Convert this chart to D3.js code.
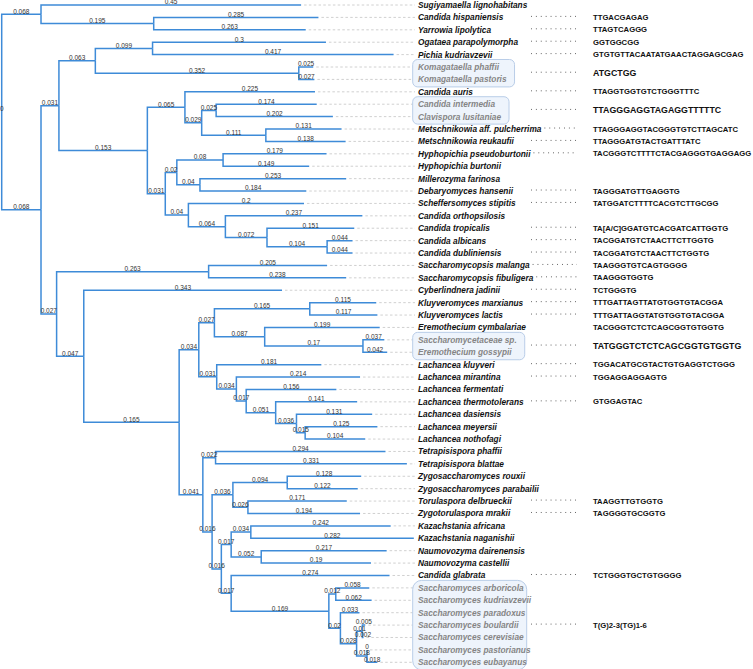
<!DOCTYPE html>
<html><head><meta charset="utf-8">
<script src="https://cdn.jsdelivr.net/npm/d3@7"></script>
<style>body{margin:0;background:#fff;} svg{display:block;}</style>
</head><body><svg id="c" width="753" height="669"></svg>
<script>
// Tree as a parent/child table: [node, parent, branch length]
const edges = [
 ["root", null, 0],
 ["n1","root",0.068],
 ["Sugiyamaella lignohabitans","n1",0.45],
 ["n2","n1",0.195],
 ["Candida hispaniensis","n2",0.285],
 ["Yarrowia lipolytica","n2",0.263],
 ["n3","root",0.068],
 ["n4","n3",0.031],
 ["n5","n4",0.063],
 ["n6","n5",0.099],
 ["Ogataea parapolymorpha","n6",0.3],
 ["Pichia kudriavzevii","n6",0.417],
 ["n7","n5",0.352],
 ["Komagataella phaffii","n7",0.025],
 ["Komagataella pastoris","n7",0.027],
 ["n8","n4",0.153],
 ["n9","n8",0.065],
 ["Candida auris","n9",0.225],
 ["n10","n9",0.029],
 ["n11","n10",0.025],
 ["Candida intermedia","n11",0.174],
 ["Clavispora lusitaniae","n11",0.202],
 ["n12","n10",0.111],
 ["Metschnikowia aff. pulcherrima","n12",0.131],
 ["Metschnikowia reukaufii","n12",0.138],
 ["n13","n8",0.031],
 ["n14","n13",0.02],
 ["n15","n14",0.08],
 ["Hyphopichia pseudoburtonii","n15",0.179],
 ["Hyphopichia burtonii","n15",0.149],
 ["n16","n14",0.04],
 ["Millerozyma farinosa","n16",0.253],
 ["Debaryomyces hansenii","n16",0.184],
 ["n17","n13",0.04],
 ["Scheffersomyces stipitis","n17",0.2],
 ["n18","n17",0.064],
 ["Candida orthopsilosis","n18",0.237],
 ["n19","n18",0.072],
 ["Candida tropicalis","n19",0.151],
 ["n20","n19",0.104],
 ["Candida albicans","n20",0.044],
 ["Candida dubliniensis","n20",0.044],
 ["n21","n3",0.027],
 ["n22","n21",0.263],
 ["Saccharomycopsis malanga","n22",0.205],
 ["Saccharomycopsis fibuligera","n22",0.238],
 ["n23","n21",0.047],
 ["Cyberlindnera jadinii","n23",0.343],
 ["n24","n23",0.165],
 ["n25","n24",0.034],
 ["n26","n25",0.027],
 ["n27","n26",0.165],
 ["Kluyveromyces marxianus","n27",0.115],
 ["Kluyveromyces lactis","n27",0.117],
 ["n28","n26",0.087],
 ["Eremothecium cymbalariae","n28",0.199],
 ["n29","n28",0.17],
 ["Saccharomycetaceae sp.","n29",0.037],
 ["Eremothecium gossypii","n29",0.042],
 ["n30","n25",0.031],
 ["Lachancea kluyveri","n30",0.181],
 ["n31","n30",0.034],
 ["Lachancea mirantina","n31",0.214],
 ["n32","n31",0.017],
 ["Lachancea fermentati","n32",0.156],
 ["n33","n32",0.051],
 ["Lachancea thermotolerans","n33",0.141],
 ["n34","n33",0.036],
 ["Lachancea dasiensis","n34",0.131],
 ["n35","n34",0.015],
 ["Lachancea meyersii","n35",0.125],
 ["Lachancea nothofagi","n35",0.104],
 ["n36","n24",0.041],
 ["n37","n36",0.022],
 ["Tetrapisispora phaffii","n37",0.294],
 ["Tetrapisispora blattae","n37",0.331],
 ["n38","n36",0.016],
 ["n39","n38",0.036],
 ["n40","n39",0.094],
 ["Zygosaccharomyces rouxii","n40",0.128],
 ["Zygosaccharomyces parabailii","n40",0.122],
 ["n41","n39",0.026],
 ["Torulaspora delbrueckii","n41",0.171],
 ["Zygotorulaspora mrakii","n41",0.194],
 ["n42","n38",0.016],
 ["n43","n42",0.017],
 ["n44","n43",0.034],
 ["Kazachstania africana","n44",0.242],
 ["Kazachstania naganishii","n44",0.282],
 ["n45","n43",0.052],
 ["Naumovozyma dairenensis","n45",0.217],
 ["Naumovozyma castellii","n45",0.19],
 ["n46","n42",0.017],
 ["Candida glabrata","n46",0.274],
 ["n47","n46",0.169],
 ["n48","n47",0.012],
 ["Saccharomyces arboricola","n48",0.058],
 ["Saccharomyces kudriavzevii","n48",0.062],
 ["n49","n47",0.02],
 ["Saccharomyces paradoxus","n49",0.033],
 ["n50","n49",0.028],
 ["n51","n50",0.01],
 ["Saccharomyces boulardii","n51",0.005],
 ["Saccharomyces cerevisiae","n51",0.002],
 ["n52","n50",0.018],
 ["Saccharomyces pastorianus","n52",0],
 ["Saccharomyces eubayanus","n52",0.018]
];

// Telomeric motifs per single species
const motifLeaves = [
 "Candida hispaniensis","Yarrowia lipolytica","Ogataea parapolymorpha","Pichia kudriavzevii",
 "Candida auris","Metschnikowia aff. pulcherrima","Metschnikowia reukaufii","Hyphopichia pseudoburtonii",
 "Debaryomyces hansenii","Scheffersomyces stipitis","Candida tropicalis","Candida albicans",
 "Candida dubliniensis","Saccharomycopsis malanga","Saccharomycopsis fibuligera","Cyberlindnera jadinii",
 "Kluyveromyces marxianus","Kluyveromyces lactis","Eremothecium cymbalariae","Lachancea kluyveri",
 "Lachancea mirantina","Lachancea thermotolerans","Torulaspora delbrueckii","Zygotorulaspora mrakii",
 "Candida glabrata"
];
const motifSeqs = [
 "TTGACGAGAG","TTAGTCAGGG","GGTGGCGG","GTGTGTTACAATATGAACTAGGAGCGAG",
 "TTAGGTGGTGTCTGGGTTTC","TTAGGGAGGTACGGGTGTCTTAGCATC","TTAGGGATGTACTGATTTATC","TACGGGTCTTTTCTACGAGGGTGAGGAGG",
 "TAGGGATGTTGAGGTG","TATGGATCTTTTCACGTCTTGCGG","TA[A/C]GGATGTCACGATCATTGGTG","TACGGATGTCTAACTTCTTGGTG",
 "TACGGATGTCTAACTTCTGGTG","TAAGGGTGTCAGTGGGG","TAAGGGTGGTG","TCTGGGTG",
 "TTTGATTAGTTATGTGGTGTACGGA","TTTGATTAGGTATGTGGTGTACGGA","TACGGGTCTCTCAGCGGTGTGGTG","TGGACATGCGTACTGTGAGGTCTGGG",
 "TGGAGGAGGAGTG","GTGGAGTAC","TAAGGTTGTGGTG","TAGGGGTGCGGTG",
 "TCTGGGTGCTGTGGGG"
];
const noLeader = ["Eremothecium cymbalariae"];

// Boxed groups sharing a motif
const groupMembers = [
 ["Komagataella phaffii","Komagataella pastoris"],
 ["Candida intermedia","Clavispora lusitaniae"],
 ["Saccharomycetaceae sp.","Eremothecium gossypii"],
 ["Saccharomyces arboricola","Saccharomyces kudriavzevii","Saccharomyces paradoxus","Saccharomyces boulardii",
  "Saccharomyces cerevisiae","Saccharomyces pastorianus","Saccharomyces eubayanus"]
];
const groupSeqs = ["ATGCTGG","TTAGGGAGGTAGAGGTTTTTC","TATGGGTCTCTCAGCGGTGTGGTG","T(G)2-3(TG)1-6"];

// ---------- layout ----------
const svg = d3.select("#c");
const root = d3.stratify().id(d => d[0]).parentId(d => d[1])(edges);
root.eachBefore(n => { n.len = n.data[2]; n.dist = (n.parent ? n.parent.dist : 0) + n.len; });
const leaves = root.leaves();
const x = d3.scaleLinear().domain([0, 1]).range([1.7, 579.7]);
const y = d3.scaleLinear().domain([0, leaves.length - 1]).range([5, 662.3]);
leaves.forEach((l, i) => l.yy = y(i));
root.eachAfter(n => {
  if (n.children) n.yy = (n.children[0].yy + n.children[n.children.length - 1].yy) / 2;
  n.xx = x(n.dist);
});
const byName = new Map(leaves.map(l => [l.id, l]));
const boxedSet = new Set(groupMembers.flat());

const LABEL_X = 418;
const labelFont = "'Liberation Sans', Arial, sans-serif";

// dashed guides
svg.append("g").selectAll("line").data(leaves.filter(l => l.xx < 411)).join("line")
  .attr("x1", d => d.xx + 3).attr("x2", 415)
  .attr("y1", d => d.yy).attr("y2", d => d.yy)
  .attr("stroke", "#c4c4c4").attr("stroke-width", 0.8).attr("stroke-dasharray", "2.5,2.3");

// branches
svg.append("g").selectAll("path").data(root.descendants().filter(n => n.parent)).join("path")
  .attr("d", n => `M${n.parent.xx},${n.parent.yy}V${n.yy}H${n.xx}`)
  .attr("fill", "none").attr("stroke", "#3e8bd8").attr("stroke-width", 1.5);

// branch length labels
svg.append("g").selectAll("text").data(root.descendants()).join("text")
  .attr("x", n => n.parent ? (n.parent.xx + n.xx) / 2 : n.xx)
  .attr("y", n => n.yy - 0.6)
  .attr("text-anchor", "middle")
  .attr("font-family", labelFont).attr("font-size", 6.5).attr("fill", "#333")
  .text(n => String(n.len));

// group boxes (drawn under labels)
const boxG = svg.append("g");

// leaf labels
const lab = svg.append("g").selectAll("text").data(leaves).join("text")
  .attr("x", LABEL_X).attr("y", d => d.yy)
  .attr("dominant-baseline", "central")
  .attr("font-family", labelFont).attr("font-size", 8.3)
  .attr("font-weight", "bold").attr("font-style", "italic")
  .attr("fill", d => boxedSet.has(d.id) ? "#858585" : "#111")
  .text(d => d.id);
const labEnd = new Map();
lab.each(function(d) { labEnd.set(d.id, LABEL_X + this.getComputedTextLength()); });

groupMembers.forEach((mem, gi) => {
  const ys = mem.map(m => byName.get(m).yy);
  const top = d3.min(ys) - 7.5, bot = d3.max(ys) + 7.5;
  const w = d3.max(mem, m => labEnd.get(m)) - 412.7 + 8;
  boxG.append("rect")
    .attr("x", 412.7).attr("y", top).attr("width", Math.min(w, 114)).attr("height", bot - top)
    .attr("rx", mem.length > 2 ? 9 : 5)
    .attr("fill", "#eef4fc").attr("stroke", "#b9cde8").attr("stroke-width", 1);
});

// dotted leaders + motif sequences
const DOT_END = 577, SEQ_X = 593;
const extras = svg.append("g");
function leader(yy, startAfter) {
  const x1 = startAfter + 3 > 528 ? startAfter + 3 : 531;
  extras.append("line").attr("x1", x1).attr("x2", DOT_END).attr("y1", yy - 1).attr("y2", yy - 1)
    .attr("stroke", "#444").attr("stroke-width", 0.9).attr("stroke-dasharray", "0.9,4");
}
motifLeaves.forEach((name, i) => {
  const l = byName.get(name);
  if (!noLeader.includes(name)) leader(l.yy, labEnd.get(name));
  extras.append("text").attr("x", SEQ_X).attr("y", l.yy).attr("dominant-baseline", "central")
    .attr("font-family", labelFont).attr("font-weight", "bold").attr("font-size", 7.7).attr("fill", "#111")
    .text(motifSeqs[i]);
});
groupMembers.forEach((mem, gi) => {
  const ys = mem.map(m => byName.get(m).yy);
  const cy = (d3.min(ys) + d3.max(ys)) / 2;
  leader(cy, 0);
  extras.append("text").attr("x", SEQ_X).attr("y", cy).attr("dominant-baseline", "central")
    .attr("font-family", labelFont).attr("font-weight", "bold")
    .attr("font-size", gi < 3 ? 8.8 : 7.7).attr("fill", "#111")
    .text(groupSeqs[gi]);
});
</script></body></html>
